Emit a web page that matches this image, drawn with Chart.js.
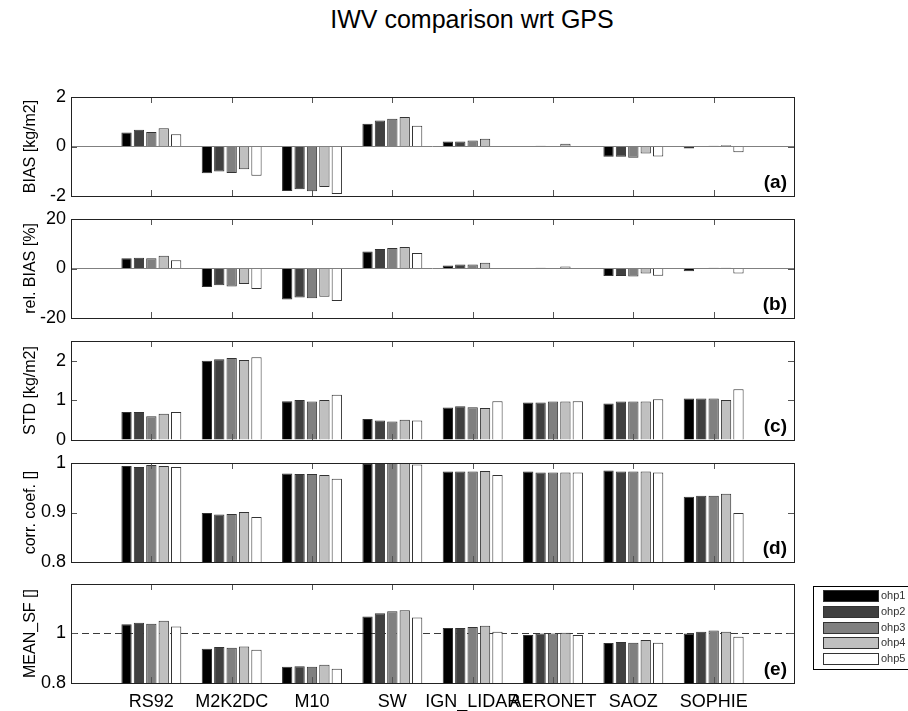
<!DOCTYPE html>
<html>
<head>
<meta charset="utf-8">
<script src="https://cdn.jsdelivr.net/npm/chart.js@4.4.0/dist/chart.umd.min.js"></script>
<style>
  body { margin: 0; background: #fff; width: 908px; height: 711px; overflow: hidden; position: relative; }
  #title { position: absolute; left: 272px; width: 400px; top: 7px; text-align: center;
           font: 25px/1 "Liberation Sans", Arial, sans-serif; color: #000; }
  canvas { position: absolute; left: 0; }
</style>
</head>
<body>
<div id="title">IWV comparison wrt GPS</div>
<canvas id="p0" width="908" height="131"></canvas>
<canvas id="p1" width="908" height="131"></canvas>
<canvas id="p2" width="908" height="131"></canvas>
<canvas id="p3" width="908" height="131"></canvas>
<canvas id="p4" width="908" height="143"></canvas>
<script>
// stations on the x axis
const stations = ['RS92', 'M2K2DC', 'M10', 'SW', 'IGN_LIDAR', 'AERONET', 'SAOZ', 'SOPHIE'];
const seriesNames = ['ohp1', 'ohp2', 'ohp3', 'ohp4', 'ohp5'];

// (a) bias [kg/m2], one row per series
const bias = [
    [0.57, -1.08, -1.80, 0.92, 0.20, 0.00, -0.41, -0.08],
    [0.68, -1.01, -1.73, 1.05, 0.20, 0.03, -0.41, 0.00],
    [0.59, -1.07, -1.81, 1.12, 0.24, 0.00, -0.45, 0.03],
    [0.74, -0.92, -1.64, 1.19, 0.31, 0.11, -0.28, 0.05],
    [0.50, -1.18, -1.92, 0.84, 0.00, 0.00, -0.40, -0.23]
];
// (b) relative bias [%]
const relBias = [
    [4.1, -7.5, -12.5, 6.9, 1.2, 0.0, -3.0, -1.1],
    [4.35, -6.8, -11.7, 7.9, 1.6, 0.3, -3.0, 0.0],
    [4.1, -7.3, -12.0, 8.3, 1.6, 0.0, -3.2, 0.3],
    [5.2, -6.3, -11.4, 8.7, 2.3, 0.8, -2.0, 0.3],
    [3.3, -8.3, -13.1, 6.3, 0.0, 0.0, -2.9, -2.0]
];
// (c) std [kg/m2]
const stdDev = [
    [0.71, 2.00, 0.98, 0.53, 0.82, 0.95, 0.92, 1.05],
    [0.71, 2.04, 1.01, 0.49, 0.85, 0.95, 0.97, 1.05],
    [0.60, 2.07, 0.975, 0.47, 0.83, 0.97, 0.97, 1.05],
    [0.66, 2.02, 1.01, 0.51, 0.81, 0.97, 0.97, 1.01],
    [0.71, 2.09, 1.14, 0.49, 0.98, 0.98, 1.03, 1.28]
];
// (d) correlation coefficient
const corrCoef = [
    [0.994, 0.899, 0.979, 0.998, 0.983, 0.983, 0.985, 0.932],
    [0.992, 0.896, 0.978, 1.000, 0.983, 0.981, 0.983, 0.934],
    [0.996, 0.897, 0.978, 1.000, 0.983, 0.981, 0.983, 0.934],
    [0.994, 0.901, 0.976, 1.000, 0.984, 0.981, 0.983, 0.938],
    [0.992, 0.891, 0.968, 0.997, 0.976, 0.981, 0.981, 0.899]
];
// (e) mean scale factor
const meanSf = [
    [1.037, 0.938, 0.865, 1.068, 1.022, 0.993, 0.961, 0.999],
    [1.043, 0.945, 0.868, 1.081, 1.022, 0.999, 0.965, 1.007],
    [1.039, 0.942, 0.865, 1.089, 1.026, 0.999, 0.962, 1.012],
    [1.051, 0.947, 0.874, 1.093, 1.031, 1.003, 0.973, 1.007],
    [1.028, 0.934, 0.857, 1.064, 1.007, 0.993, 0.962, 0.986]
];

const seriesFill = ['#000000', '#404040', '#808080', '#c0c0c0', '#ffffff'];
const FONT = '"Liberation Sans", Arial, Helvetica, sans-serif';
Chart.defaults.font.family = FONT;
Chart.defaults.color = '#000';

// box, inward ticks, panel letter, optional dashed reference line
const framePlugin = {
    id: 'frame',
    beforeDatasetsDraw(chart, args, opts) {
        if (opts.refLine == null) return;
        const { ctx, chartArea: a, scales: { y } } = chart;
        const py = Math.round(y.getPixelForValue(opts.refLine)) + 0.5;
        ctx.save();
        ctx.strokeStyle = '#3a3a3a';
        ctx.lineWidth = 1;
        ctx.setLineDash([7, 4]);
        ctx.beginPath();
        ctx.moveTo(a.left, py);
        ctx.lineTo(a.right, py);
        ctx.stroke();
        ctx.restore();
    },
    afterDatasetsDraw(chart, args, opts) {
        const { ctx, chartArea: a, scales: { x, y } } = chart;
        ctx.save();
        ctx.strokeStyle = '#555';
        ctx.lineWidth = 1;
        ctx.beginPath();
        for (let i = 1; i <= stations.length; i++) {
            const px = Math.round(x.getPixelForValue(i)) + 0.5;
            ctx.moveTo(px, a.top); ctx.lineTo(px, a.top + 6);
            ctx.moveTo(px, a.bottom); ctx.lineTo(px, a.bottom - 6);
        }
        y.ticks.forEach(t => {
            const py = Math.round(y.getPixelForValue(t.value)) + 0.5;
            ctx.moveTo(a.left, py); ctx.lineTo(a.left + 6, py);
            ctx.moveTo(a.right, py); ctx.lineTo(a.right - 6, py);
        });
        ctx.stroke();
        ctx.strokeStyle = '#222';
        ctx.strokeRect(Math.round(a.left) + 0.5, Math.round(a.top) + 0.5, Math.round(a.width), Math.round(a.height));
        ctx.font = 'bold 19px ' + FONT;
        ctx.fillStyle = '#000';
        ctx.textAlign = 'right';
        ctx.textBaseline = 'alphabetic';
        ctx.fillText(opts.tag, a.right - 7, a.bottom - 8);
        ctx.restore();
    }
};

// legend box to the right of the last panel
const legendBox = {
    id: 'legendBox',
    afterDraw(chart, args, opts) {
        if (!opts.show) return;
        const { ctx, chartArea: a } = chart;
        const left = Math.round(a.right) + 19, top = Math.round(a.top) + 2;
        ctx.save();
        ctx.lineWidth = 1;
        ctx.strokeStyle = '#000';
        ctx.strokeRect(left + 0.5, top + 0.5, 200, 83);
        ctx.font = '11px ' + FONT;
        ctx.textAlign = 'left';
        ctx.textBaseline = 'middle';
        chart.data.datasets.forEach((ds, i) => {
            const sy = Math.round(top + 4 + i * 15.8);
            ctx.fillStyle = ds.backgroundColor;
            ctx.fillRect(left + 10, sy, 55, 11);
            ctx.strokeStyle = ds.borderColor;
            ctx.strokeRect(left + 10.5, sy + 0.5, 55, 11);
            ctx.fillStyle = '#333';
            ctx.fillText(ds.label, left + 68, sy + 6);
        });
        ctx.restore();
    }
};

const panels = [
    { id: 'p0', rows: bias, title: 'BIAS [kg/m2]', tag: '(a)', min: -2, max: 2, step: 2, zero: true },
    { id: 'p1', rows: relBias, title: 'rel. BIAS [%]', tag: '(b)', min: -20, max: 20, step: 20, zero: true },
    { id: 'p2', rows: stdDev, title: 'STD [kg/m2]', tag: '(c)', min: 0, max: 2.5, step: 1 },
    { id: 'p3', rows: corrCoef, title: 'corr. coef. []', tag: '(d)', min: 0.8, max: 1, step: 0.1 },
    { id: 'p4', rows: meanSf, title: 'MEAN_SF []', tag: '(e)', min: 0.8, max: 1.199, step: 0.2, ref: 1, last: true }
];
const panelTops = [97, 219, 341, 463, 584];
const MARGIN = 16;

// one empty slot on each side of the stations, like the original x limits
const labels = ['', ...stations, ''];

panels.forEach((p, k) => {
    const el = document.getElementById(p.id);
    el.style.top = (panelTops[k] - MARGIN) + 'px';
    new Chart(el, {
        type: 'bar',
        data: {
            labels,
            datasets: p.rows.map((row, i) => ({
                label: seriesNames[i],
                data: [null, ...row, null],
                backgroundColor: seriesFill[i],
                borderColor: '#333',
                borderWidth: 1,
                categoryPercentage: 0.772,
                barPercentage: 0.83
            }))
        },
        options: {
            responsive: false,
            animation: false,
            events: [],
            layout: { padding: { left: 0, right: 114, top: MARGIN, bottom: 0 } },
            plugins: {
                legend: { display: false },
                tooltip: { enabled: false },
                frame: { tag: p.tag, refLine: p.ref },
                legendBox: { show: !!p.last }
            },
            scales: {
                x: {
                    type: 'category',
                    offset: false,
                    grid: { display: false, drawTicks: false },
                    border: { display: false },
                    ticks: {
                        display: !!p.last,
                        autoSkip: false,
                        maxRotation: 0,
                        minRotation: 0,
                        padding: 8,
                        font: { size: 18 }
                    },
                    afterFit(s) { s.height = p.last ? 28 : MARGIN; }
                },
                y: {
                    min: p.min,
                    max: p.max,
                    ticks: {
                        stepSize: p.step,
                        includeBounds: false,
                        padding: 5,
                        font: { size: 18 },
                        callback: v => String(+v.toFixed(3))
                    },
                    grid: {
                        drawTicks: false,
                        color: c => (p.zero && c.tick && c.tick.value === 0) ? '#808080' : 'rgba(0,0,0,0)'
                    },
                    border: { display: false },
                    title: { display: true, text: p.title, font: { size: 16 }, padding: { top: 21, bottom: 0 } },
                    afterFit(s) { s.width = 71; }
                }
            }
        },
        plugins: [framePlugin, legendBox]
    });
});
</script>
</body>
</html>
